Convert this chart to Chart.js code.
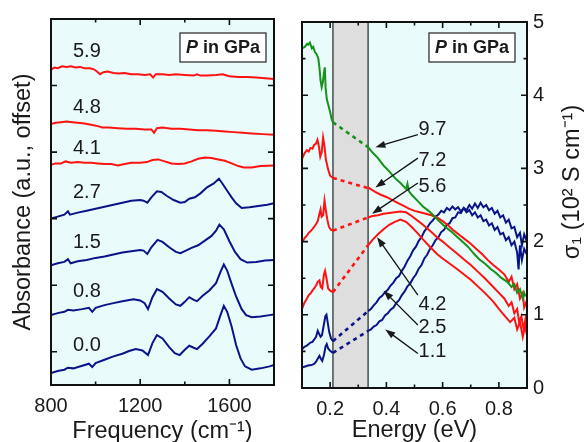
<!DOCTYPE html>
<html>
<head>
<meta charset="utf-8">
<script src="https://cdn.jsdelivr.net/npm/chart.js@4.4.1/dist/chart.umd.min.js"></script>
<style>
  html, body { margin: 0; padding: 0; background: #fff; }
  #wrap { position: relative; width: 586px; height: 442px; overflow: hidden; }
  canvas { position: absolute; top: 0; }
  #left { left: 0; }
  #right { left: 290px; }
</style>
</head>
<body>
<div id="wrap">
  <canvas id="left" width="290" height="442"></canvas>
  <canvas id="right" width="296" height="442"></canvas>
</div>
<script>
// ---- left panel: absorbance spectra, offset, [frequency cm-1, absorbance] ----
const freqMajor = [800, 1200, 1600];
const freqMinor = [1000, 1400];
const absTicks = [0, 1, 2, 3, 4];

const abs59 = [[800,4.24],[815,4.27],[830,4.26],[850,4.29],[870,4.28],[890,4.29],[910,4.27],[930,4.28],[950,4.26],[975,4.26],[995,4.24],[1010,4.2],[1020,4.17],[1035,4.2],[1055,4.21],[1080,4.19],[1105,4.18],[1130,4.19],[1160,4.17],[1190,4.17],[1220,4.16],[1245,4.17],[1258,4.12],[1270,4.17],[1300,4.17],[1330,4.16],[1360,4.17],[1400,4.16],[1440,4.15],[1455,4.17],[1470,4.15],[1500,4.15],[1540,4.16],[1570,4.17],[1600,4.14],[1640,4.13],[1680,4.13],[1720,4.12],[1760,4.11],[1800,4.1]];
const abs48 = [[800,3.42],[820,3.44],[845,3.45],[870,3.46],[895,3.45],[920,3.44],[950,3.43],[980,3.41],[1010,3.39],[1030,3.37],[1060,3.37],[1100,3.36],[1140,3.35],[1180,3.35],[1220,3.34],[1250,3.34],[1262,3.29],[1275,3.36],[1300,3.37],[1340,3.35],[1380,3.35],[1420,3.34],[1460,3.33],[1500,3.33],[1540,3.32],[1580,3.31],[1620,3.3],[1660,3.29],[1700,3.28],[1750,3.27],[1800,3.26]];
const abs41 = [[800,2.81],[820,2.83],[845,2.83],[865,2.86],[890,2.84],[920,2.85],[950,2.84],[980,2.84],[1010,2.83],[1040,2.82],[1070,2.82],[1100,2.8],[1130,2.82],[1160,2.84],[1200,2.84],[1230,2.85],[1255,2.88],[1280,2.89],[1310,2.86],[1340,2.83],[1370,2.82],[1400,2.83],[1430,2.86],[1460,2.9],[1490,2.92],[1520,2.91],[1550,2.89],[1580,2.87],[1610,2.83],[1640,2.79],[1665,2.77],[1700,2.77],[1740,2.79],[1800,2.8]];
const abs27 = [[800,2.0],[830,2.03],[860,2.06],[876,2.11],[885,2.06],[920,2.09],[960,2.12],[1000,2.15],[1040,2.18],[1080,2.21],[1120,2.24],[1160,2.27],[1200,2.28],[1215,2.27],[1232,2.24],[1250,2.32],[1275,2.41],[1295,2.4],[1320,2.34],[1350,2.28],[1380,2.24],[1400,2.25],[1420,2.3],[1445,2.32],[1470,2.38],[1500,2.47],[1530,2.53],[1553,2.6],[1570,2.52],[1590,2.42],[1610,2.32],[1630,2.23],[1655,2.16],[1690,2.17],[1730,2.19],[1770,2.21],[1800,2.23]];
const abs15 = [[800,1.3],[830,1.33],[860,1.35],[876,1.39],[888,1.33],[920,1.36],[960,1.38],[1000,1.41],[1040,1.43],[1080,1.46],[1120,1.49],[1160,1.51],[1200,1.53],[1215,1.52],[1232,1.47],[1250,1.57],[1278,1.68],[1300,1.65],[1330,1.57],[1360,1.5],[1380,1.48],[1405,1.52],[1430,1.56],[1460,1.6],[1490,1.67],[1520,1.74],[1540,1.82],[1555,1.91],[1575,1.84],[1600,1.66],[1625,1.5],[1650,1.39],[1680,1.34],[1720,1.35],[1760,1.37],[1800,1.38]];
const abs08 = [[800,0.55],[830,0.58],[860,0.6],[876,0.63],[900,0.62],[940,0.64],[970,0.66],[985,0.6],[1000,0.66],[1040,0.7],[1080,0.73],[1120,0.76],[1170,0.79],[1200,0.77],[1220,0.73],[1235,0.64],[1255,0.82],[1275,0.94],[1300,0.9],[1330,0.8],[1360,0.71],[1380,0.69],[1400,0.75],[1420,0.82],[1440,0.78],[1455,0.76],[1480,0.84],[1510,0.92],[1540,1.03],[1560,1.2],[1575,1.31],[1590,1.22],[1610,1.02],[1630,0.83],[1655,0.64],[1675,0.55],[1700,0.52],[1740,0.53],[1780,0.55],[1800,0.56]];
const abs00 = [[800,-0.32],[830,-0.29],[860,-0.27],[876,-0.24],[900,-0.25],[940,-0.21],[970,-0.18],[985,-0.23],[1000,-0.17],[1040,-0.12],[1080,-0.07],[1120,-0.03],[1150,0.01],[1180,0.04],[1210,0.02],[1235,-0.05],[1255,0.13],[1275,0.25],[1300,0.2],[1330,0.07],[1355,-0.02],[1377,-0.05],[1400,0.03],[1420,0.09],[1440,0.06],[1455,0.04],[1480,0.12],[1510,0.23],[1540,0.35],[1560,0.55],[1575,0.69],[1590,0.6],[1610,0.38],[1630,0.1],[1650,-0.1],[1670,-0.22],[1700,-0.27],[1740,-0.25],[1780,-0.22],[1800,-0.2]];

// pressure labels: [text, frequency, absorbance]
const leftLabels = [['5.9',961,4.51],['4.8',961,3.67],['4.1',961,3.06],['2.7',961,2.39],['1.5',961,1.64],['0.8',961,0.9],['0.0',961,0.1]];

// ---- right panel: optical conductivity, [energy eV, sigma1 (10^2 S/cm)] ----
const energyMajor = [0.2, 0.4, 0.6, 0.8];
const energyMinor = [0.1, 0.3, 0.5, 0.7, 0.9];
const sigmaMajor = [0, 1, 2, 3, 4, 5];
const sigmaMinor = [0.5, 1.5, 2.5, 3.5, 4.5];
const gapRange = [0.21, 0.335];

const s97Low = [[0.1,4.64],[0.11,4.66],[0.118,4.7],[0.122,4.69],[0.128,4.72],[0.135,4.64],[0.14,4.66],[0.146,4.59],[0.152,4.56],[0.158,4.5],[0.162,4.38],[0.166,4.2],[0.17,4.11],[0.174,4.18],[0.178,4.3],[0.181,4.38],[0.184,4.1],[0.188,3.95],[0.194,3.86],[0.2,3.77],[0.205,3.68],[0.21,3.63]];
const s97Gap = [[0.21,3.63],[0.335,3.29]];
const s97High = [[0.335,3.29],[0.35,3.22],[0.37,3.14],[0.39,3.04],[0.41,2.96],[0.43,2.87],[0.45,2.8],[0.47,2.72],[0.475,2.79],[0.48,2.69],[0.49,2.64],[0.51,2.56],[0.53,2.48],[0.55,2.42],[0.57,2.35],[0.59,2.27],[0.61,2.2],[0.63,2.14],[0.65,2.07],[0.67,2.0],[0.69,1.93],[0.71,1.84],[0.73,1.76],[0.75,1.7],[0.77,1.63],[0.79,1.57],[0.81,1.5],[0.83,1.45],[0.845,1.38],[0.855,1.42],[0.865,1.3],[0.875,1.35],[0.885,1.22],[0.89,1.3],[0.895,1.25]];

const s72Low = [[0.1,3.13],[0.108,3.2],[0.117,3.25],[0.124,3.23],[0.13,3.28],[0.137,3.27],[0.143,3.32],[0.15,3.34],[0.155,3.39],[0.16,3.3],[0.165,3.16],[0.17,3.22],[0.175,3.42],[0.18,3.3],[0.185,3.12],[0.192,3.0],[0.2,2.9],[0.21,2.87]];
const s72Gap = [[0.21,2.87],[0.335,2.73]];
const s72High = [[0.335,2.74],[0.36,2.68],[0.38,2.64],[0.4,2.61],[0.42,2.57],[0.44,2.53],[0.46,2.49],[0.48,2.45],[0.5,2.42],[0.52,2.4],[0.54,2.38],[0.56,2.36],[0.58,2.33],[0.6,2.28],[0.62,2.22],[0.64,2.15],[0.66,2.09],[0.68,2.03],[0.7,1.97],[0.72,1.9],[0.74,1.83],[0.76,1.75],[0.78,1.68],[0.8,1.62],[0.82,1.55],[0.835,1.45],[0.845,1.52],[0.855,1.35],[0.865,1.42],[0.875,1.22],[0.885,1.3],[0.89,1.1],[0.9,1.2]];

const s56Low = [[0.1,1.99],[0.108,2.04],[0.117,2.08],[0.124,2.12],[0.13,2.14],[0.137,2.17],[0.143,2.2],[0.15,2.24],[0.156,2.28],[0.162,2.38],[0.166,2.44],[0.17,2.34],[0.175,2.36],[0.18,2.56],[0.185,2.42],[0.19,2.3],[0.196,2.2],[0.203,2.16],[0.21,2.15]];
const s56Gap = [[0.21,2.15],[0.335,2.33]];
const s56High = [[0.335,2.33],[0.35,2.35],[0.37,2.36],[0.39,2.38],[0.41,2.39],[0.43,2.4],[0.45,2.41],[0.47,2.4],[0.49,2.35],[0.51,2.29],[0.53,2.23],[0.557,2.14],[0.58,2.06],[0.6,2.0],[0.625,1.92],[0.65,1.84],[0.675,1.76],[0.7,1.68],[0.725,1.59],[0.75,1.5],[0.775,1.4],[0.8,1.3],[0.82,1.22],[0.835,1.12],[0.845,1.17],[0.855,1.02],[0.865,1.08],[0.872,0.9],[0.88,0.98],[0.888,0.8],[0.895,0.95],[0.9,0.85]];

const s42Low = [[0.1,1.08],[0.108,1.16],[0.117,1.22],[0.124,1.27],[0.13,1.29],[0.137,1.33],[0.143,1.36],[0.15,1.4],[0.156,1.45],[0.162,1.47],[0.167,1.38],[0.172,1.36],[0.178,1.55],[0.182,1.6],[0.187,1.5],[0.193,1.36],[0.2,1.33],[0.21,1.31]];
const s42Gap = [[0.21,1.31],[0.335,1.95]];
const s42High = [[0.335,1.95],[0.35,2.02],[0.37,2.1],[0.39,2.17],[0.41,2.23],[0.43,2.27],[0.45,2.3],[0.47,2.27],[0.49,2.2],[0.51,2.12],[0.53,2.03],[0.557,1.92],[0.58,1.83],[0.6,1.77],[0.65,1.63],[0.7,1.48],[0.75,1.3],[0.78,1.18],[0.8,1.08],[0.82,0.99],[0.84,0.9],[0.855,0.96],[0.865,0.8],[0.875,0.9],[0.885,0.7],[0.893,0.85],[0.9,0.72]];

const s25Low = [[0.1,0.53],[0.108,0.56],[0.117,0.58],[0.124,0.6],[0.13,0.62],[0.137,0.63],[0.143,0.66],[0.15,0.7],[0.156,0.78],[0.161,0.74],[0.166,0.7],[0.171,0.72],[0.177,0.85],[0.183,0.98],[0.187,1.0],[0.192,0.88],[0.197,0.76],[0.203,0.68],[0.21,0.64]];
const s25Gap = [[0.21,0.64],[0.335,1.05]];
const s25High = [[0.335,1.05],[0.345,1.08],[0.355,1.13],[0.365,1.17],[0.375,1.23],[0.385,1.26],[0.395,1.31],[0.405,1.34],[0.415,1.4],[0.425,1.44],[0.435,1.5],[0.445,1.53],[0.455,1.6],[0.465,1.66],[0.475,1.74],[0.485,1.8],[0.495,1.88],[0.505,1.93],[0.515,2.01],[0.525,2.06],[0.535,2.14],[0.545,2.19],[0.555,2.25],[0.565,2.29],[0.575,2.34],[0.585,2.37],[0.595,2.42],[0.605,2.4],[0.615,2.46],[0.625,2.43],[0.635,2.48],[0.645,2.44],[0.655,2.47],[0.665,2.41],[0.675,2.46],[0.685,2.4],[0.695,2.43],[0.705,2.36],[0.715,2.4],[0.725,2.33],[0.735,2.36],[0.745,2.28],[0.755,2.3],[0.765,2.22],[0.775,2.25],[0.785,2.16],[0.795,2.2],[0.805,2.1],[0.815,2.12],[0.825,2.02],[0.835,2.06],[0.845,1.95],[0.855,2.0],[0.865,1.85],[0.87,1.62],[0.875,1.95],[0.882,1.75],[0.89,1.9],[0.9,1.82]];

const s11Low = [[0.1,0.28],[0.108,0.29],[0.117,0.3],[0.124,0.31],[0.13,0.31],[0.137,0.32],[0.143,0.33],[0.15,0.36],[0.156,0.4],[0.162,0.44],[0.167,0.4],[0.172,0.37],[0.178,0.45],[0.184,0.57],[0.188,0.6],[0.193,0.54],[0.2,0.51],[0.21,0.48]];
const s11Gap = [[0.21,0.48],[0.335,0.78]];
const s11High = [[0.335,0.78],[0.345,0.8],[0.355,0.84],[0.365,0.86],[0.375,0.91],[0.385,0.93],[0.395,0.99],[0.405,1.02],[0.415,1.07],[0.425,1.1],[0.435,1.16],[0.445,1.2],[0.455,1.27],[0.465,1.32],[0.475,1.39],[0.485,1.43],[0.495,1.5],[0.505,1.55],[0.515,1.63],[0.525,1.68],[0.535,1.77],[0.545,1.82],[0.555,1.9],[0.565,1.95],[0.575,2.02],[0.585,2.06],[0.595,2.13],[0.605,2.16],[0.615,2.23],[0.625,2.25],[0.635,2.32],[0.645,2.33],[0.655,2.4],[0.665,2.39],[0.675,2.46],[0.685,2.43],[0.695,2.5],[0.705,2.45],[0.715,2.52],[0.725,2.46],[0.735,2.53],[0.745,2.47],[0.755,2.5],[0.765,2.43],[0.775,2.46],[0.785,2.38],[0.795,2.42],[0.805,2.33],[0.815,2.36],[0.825,2.26],[0.835,2.3],[0.845,2.18],[0.855,2.2],[0.865,2.06],[0.875,2.12],[0.882,1.95],[0.89,2.1],[0.9,2.0]];

// pressure labels: [text, energy, sigma]; arrows: [from E, from s, to E, to s]
const rightLabels = [['9.7',0.564,3.53],['7.2',0.564,3.11],['5.6',0.564,2.75],['4.2',0.564,1.14],['2.5',0.564,0.82],['1.1',0.564,0.5]];
const rightArrows = [[0.512,3.46,0.361,3.29],[0.512,3.14,0.361,2.74],[0.512,2.8,0.349,2.38],[0.512,1.27,0.367,2.06],[0.512,0.86,0.39,1.33],[0.512,0.47,0.396,0.8]];

const RED = '#ff1212';
const BLUE = '#0a1488';
const GREEN = '#16921a';
const FONT = "'Liberation Sans', Arial, Helvetica, sans-serif";
const TEXT = '#1a1a1a';
const PANEL_BG = '#e9fbfb';

function line(data, color, dashed) {
  return {
    data: data, borderColor: color, borderWidth: dashed ? 2.6 : 2,
    borderDash: dashed ? [4, 4] : [], pointRadius: 0, tension: 0, fill: false
  };
}

function arrow(ctx, x1, y1, x2, y2) {
  const ang = Math.atan2(y2 - y1, x2 - x1), L = 10, W = 3.6;
  const c = Math.cos(ang), s = Math.sin(ang);
  ctx.beginPath();
  ctx.moveTo(x1, y1);
  ctx.lineTo(x2 - L * 0.7 * c, y2 - L * 0.7 * s);
  ctx.stroke();
  ctx.beginPath();
  ctx.moveTo(x2, y2);
  ctx.lineTo(x2 - L * c + W * s, y2 - L * s - W * c);
  ctx.lineTo(x2 - L * c - W * s, y2 - L * s + W * c);
  ctx.closePath();
  ctx.fill();
}

function legendBox(ctx, right, top) {
  ctx.save();
  ctx.font = 'italic bold 18px ' + FONT;
  const wP = ctx.measureText('P').width;
  ctx.font = 'bold 18px ' + FONT;
  const wR = ctx.measureText(' in GPa').width;
  const w = wP + wR + 12, h = 29, x = right - w;
  ctx.fillStyle = '#fff';
  ctx.fillRect(x, top, w, h);
  ctx.strokeStyle = '#333';
  ctx.lineWidth = 1.3;
  ctx.strokeRect(x, top, w, h);
  ctx.fillStyle = TEXT;
  ctx.textBaseline = 'middle';
  ctx.textAlign = 'left';
  ctx.font = 'italic bold 18px ' + FONT;
  ctx.fillText('P', x + 6, top + h / 2 + 1);
  ctx.font = 'bold 18px ' + FONT;
  ctx.fillText(' in GPa', x + 6 + wP, top + h / 2 + 1);
  ctx.restore();
}

// background, inward ticks, frame and annotations for one panel
function panelPlugin(cfg) {
  return {
    id: 'panel',
    beforeDatasetsDraw(chart) {
      const ctx = chart.ctx, a = chart.chartArea, xs = chart.scales.x;
      ctx.save();
      ctx.fillStyle = PANEL_BG;
      ctx.fillRect(a.left, a.top, a.right - a.left, a.bottom - a.top);
      if (cfg.gap) {
        const g0 = xs.getPixelForValue(cfg.gap[0]), g1 = xs.getPixelForValue(cfg.gap[1]);
        ctx.fillStyle = '#dedede';
        ctx.fillRect(g0, a.top, g1 - g0, a.bottom - a.top);
        ctx.strokeStyle = '#333';
        ctx.lineWidth = 1.3;
        ctx.beginPath();
        ctx.moveTo(g0, a.top); ctx.lineTo(g0, a.bottom);
        ctx.moveTo(g1, a.top); ctx.lineTo(g1, a.bottom);
        ctx.stroke();
      }
      ctx.restore();
    },
    afterDatasetsDraw(chart) {
      const ctx = chart.ctx, a = chart.chartArea, xs = chart.scales.x, ys = chart.scales.y;
      ctx.save();
      ctx.strokeStyle = '#111';
      ctx.lineWidth = 1.6;
      ctx.beginPath();
      const xt = (vals, len) => vals.forEach(v => {
        const p = xs.getPixelForValue(v);
        ctx.moveTo(p, a.bottom); ctx.lineTo(p, a.bottom - len);
        ctx.moveTo(p, a.top); ctx.lineTo(p, a.top + len);
      });
      const yt = (vals, len) => vals.forEach(v => {
        const p = ys.getPixelForValue(v);
        ctx.moveTo(a.left, p); ctx.lineTo(a.left + len, p);
        ctx.moveTo(a.right, p); ctx.lineTo(a.right - len, p);
      });
      xt(cfg.xMajor, 6); xt(cfg.xMinor, 3.5);
      yt(cfg.yMajor, 6); yt(cfg.yMinor, 3.5);
      ctx.stroke();
      ctx.lineWidth = 2;
      ctx.strokeRect(a.left, a.top, a.right - a.left, a.bottom - a.top);

      ctx.fillStyle = TEXT;
      ctx.font = '20px ' + FONT;
      ctx.textAlign = 'center';
      ctx.textBaseline = 'middle';
      cfg.labels.forEach(([t, x, y]) => ctx.fillText(t, xs.getPixelForValue(x), ys.getPixelForValue(y)));
      ctx.strokeStyle = '#111';
      ctx.lineWidth = 1.3;
      (cfg.arrows || []).forEach(([x1, y1, x2, y2]) => arrow(ctx,
        xs.getPixelForValue(x1), ys.getPixelForValue(y1),
        xs.getPixelForValue(x2), ys.getPixelForValue(y2)));
      ctx.restore();

      legendBox(ctx, a.right - cfg.boxInset[0], a.top + cfg.boxInset[1]);

      if (cfg.rightTitle) {
        ctx.save();
        ctx.fillStyle = TEXT;
        ctx.font = '23.5px ' + FONT;
        ctx.textAlign = 'center';
        ctx.textBaseline = 'middle';
        ctx.translate(chart.width - 13, (a.top + a.bottom) / 2 - 23);
        ctx.rotate(-Math.PI / 2);
        ctx.fillText(cfg.rightTitle, 0, 0);
        ctx.restore();
      }
    }
  };
}

const tickFont = { family: FONT, size: 20 };
const titleFont = { family: FONT, size: 23.5, lineHeight: 0.9 };

new Chart(document.getElementById('left'), {
  type: 'line',
  data: {
    datasets: [
      line(abs59, RED), line(abs48, RED), line(abs41, RED),
      line(abs27, BLUE), line(abs15, BLUE), line(abs08, BLUE), line(abs00, BLUE)
    ]
  },
  options: {
    responsive: false, animation: false, events: [],
    layout: { padding: { top: 19, right: 16, left: 0, bottom: 0 } },
    plugins: { legend: { display: false }, tooltip: { enabled: false } },
    scales: {
      x: {
        type: 'linear', min: 800, max: 1800,
        afterBuildTicks: s => { s.ticks = freqMajor.map(v => ({ value: v })); },
        afterFit: s => { s.height = 57; },
        grid: { display: false, drawTicks: false }, border: { display: false },
        ticks: { font: tickFont, color: TEXT, padding: 9, maxRotation: 0, autoSkip: false, callback: v => String(v) },
        title: { display: true, text: 'Frequency (cm⁻¹)', font: titleFont, color: TEXT, padding: { top: 0, bottom: 0 } }
      },
      y: {
        type: 'linear', min: -0.5, max: 5,
        afterFit: s => { s.width = 51; },
        grid: { display: false, drawTicks: false }, border: { display: false },
        ticks: { display: false },
        title: { display: true, text: 'Absorbance (a.u., offset)', font: { family: FONT, size: 23.5 }, color: TEXT, padding: { top: 9, bottom: 0 } }
      }
    }
  },
  plugins: [panelPlugin({
    xMajor: freqMajor, xMinor: freqMinor, yMajor: absTicks, yMinor: [],
    labels: leftLabels, boxInset: [8, 14]
  })]
});

new Chart(document.getElementById('right'), {
  type: 'line',
  data: {
    datasets: [
      line(s97High, GREEN), line(s97Gap, GREEN, true), line(s97Low, GREEN),
      line(s72High, RED), line(s72Gap, RED, true), line(s72Low, RED),
      line(s56High, RED), line(s56Gap, RED, true), line(s56Low, RED),
      line(s42High, RED), line(s42Gap, RED, true), line(s42Low, RED),
      line(s25High, BLUE), line(s25Gap, BLUE, true), line(s25Low, BLUE),
      line(s11High, BLUE), line(s11Gap, BLUE, true), line(s11Low, BLUE)
    ]
  },
  options: {
    responsive: false, animation: false, events: [],
    layout: { padding: { top: 22, right: 0, left: 12, bottom: 0 } },
    plugins: { legend: { display: false }, tooltip: { enabled: false } },
    scales: {
      x: {
        type: 'linear', min: 0.1, max: 0.9,
        afterBuildTicks: s => { s.ticks = energyMajor.map(v => ({ value: v })); },
        afterFit: s => { s.height = 54; },
        grid: { display: false, drawTicks: false }, border: { display: false },
        ticks: { font: tickFont, color: TEXT, padding: 9, maxRotation: 0, autoSkip: false, callback: v => v.toFixed(1) },
        title: { display: true, text: 'Energy (eV)', font: titleFont, color: TEXT, padding: { top: 0, bottom: 1 } }
      },
      y: {
        type: 'linear', position: 'right', min: 0, max: 5,
        afterBuildTicks: s => { s.ticks = sigmaMajor.map(v => ({ value: v })); },
        afterFit: s => { s.width = 59; },
        grid: { display: false, drawTicks: false }, border: { display: false },
        ticks: { font: tickFont, color: TEXT, padding: 6, autoSkip: false }
      }
    }
  },
  plugins: [panelPlugin({
    xMajor: energyMajor, xMinor: energyMinor, yMajor: sigmaMajor, yMinor: sigmaMinor,
    gap: gapRange, labels: rightLabels, arrows: rightArrows, boxInset: [12, 11],
    rightTitle: 'σ₁ (10² S cm⁻¹)'
  })]
});
</script>
</body>
</html>
